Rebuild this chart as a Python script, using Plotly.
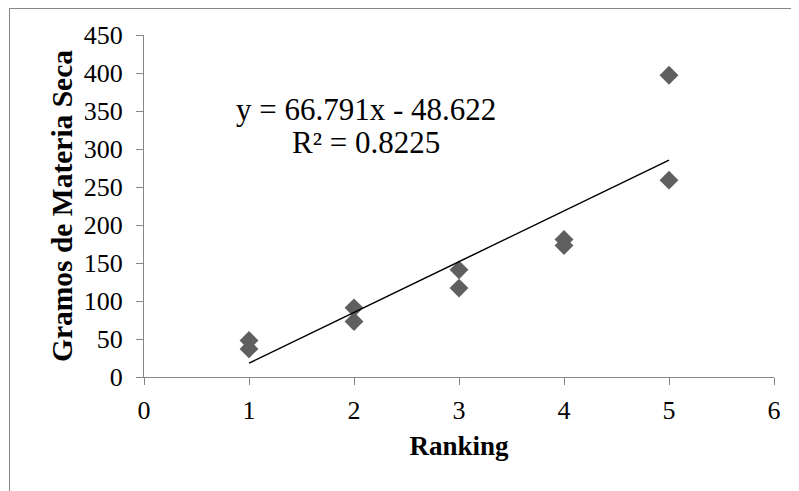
import plotly.graph_objects as go

# Data
ranking = [1, 1, 2, 2, 3, 3, 4, 4, 5, 5]
gramos = [48, 37, 91, 73, 141, 117, 181, 173, 397, 259]

# Trendline as reported on the chart
slope = 66.791
intercept = -48.622
r_squared = 0.8225
trend_x = [min(ranking), max(ranking)]
trend_y = [slope * x + intercept for x in trend_x]

x_ticks = [0, 1, 2, 3, 4, 5, 6]
y_ticks = [0, 50, 100, 150, 200, 250, 300, 350, 400, 450]

FONT = "Liberation Serif, Times New Roman, serif"
AXIS_GRAY = "#868686"

# page body has an 8px margin; figure coords = page coords - 8
L, T, R, B = 136, 27, 33, 122
PW, PH = 799 - L - R, 491 - T - B

fig = go.Figure()
fig.add_trace(go.Scatter(
    x=ranking, y=gramos, mode="markers",
    marker=dict(symbol="diamond", size=14.5, color="#5f5f5f", line=dict(width=0)),
    showlegend=False, hoverinfo="x+y",
))
fig.add_trace(go.Scatter(
    x=trend_x, y=trend_y, mode="lines",
    line=dict(color="black", width=1.5),
    showlegend=False, hoverinfo="skip",
))

fig.add_annotation(
    x=2.114, y=352, xref="x", yref="y",
    text=f"y = {slope}x - {abs(intercept)}", showarrow=False,
    font=dict(family=FONT, size=31, color="black"),
    xanchor="center", yanchor="middle",
)
fig.add_annotation(
    x=2.114, y=308, xref="x", yref="y",
    text=f"R² = {r_squared}", showarrow=False,
    font=dict(family=FONT, size=31, color="black"),
    xanchor="center", yanchor="middle",
)

# outer chart border (left and top edges visible)
fig.add_shape(
    type="rect", xref="paper", yref="paper",
    x0=(1.5 - L) / PW, x1=(810 - L) / PW,
    y0=(T + PH - 520) / PH, y1=(T + PH - 0.5) / PH,
    line=dict(color=AXIS_GRAY, width=1), fillcolor="rgba(0,0,0,0)",
    layer="below",
)

fig.update_layout(
    width=799, height=491,
    margin=dict(l=L, r=R, t=T, b=B),
    paper_bgcolor="white", plot_bgcolor="white",
    font=dict(family=FONT, color="black"),
    xaxis=dict(
        range=[0, 6], tickvals=x_ticks, ticktext=[str(v) for v in x_ticks],
        showgrid=False, zeroline=False,
        showline=True, linecolor=AXIS_GRAY, linewidth=1,
        ticks="outside", ticklen=7, tickcolor=AXIS_GRAY, tickwidth=1,
        tickfont=dict(family=FONT, size=26, color="black"),
        ticklabelstandoff=3,
        title=dict(text="<b>Ranking</b>", font=dict(family=FONT, size=27, color="black"), standoff=11),
        fixedrange=True,
    ),
    yaxis=dict(
        range=[0, 450], tickvals=y_ticks, ticktext=[str(v) for v in y_ticks],
        showgrid=False, zeroline=False,
        showline=True, linecolor=AXIS_GRAY, linewidth=1,
        ticks="outside", ticklen=7, tickcolor=AXIS_GRAY, tickwidth=1,
        tickfont=dict(family=FONT, size=26, color="black"),
        ticklabelstandoff=8,
        title=dict(text="<b>Gramos de Materia Seca</b>", font=dict(family=FONT, size=29.5, color="black"), standoff=2),
        fixedrange=True,
    ),
)

fig.write_html("out.html")
